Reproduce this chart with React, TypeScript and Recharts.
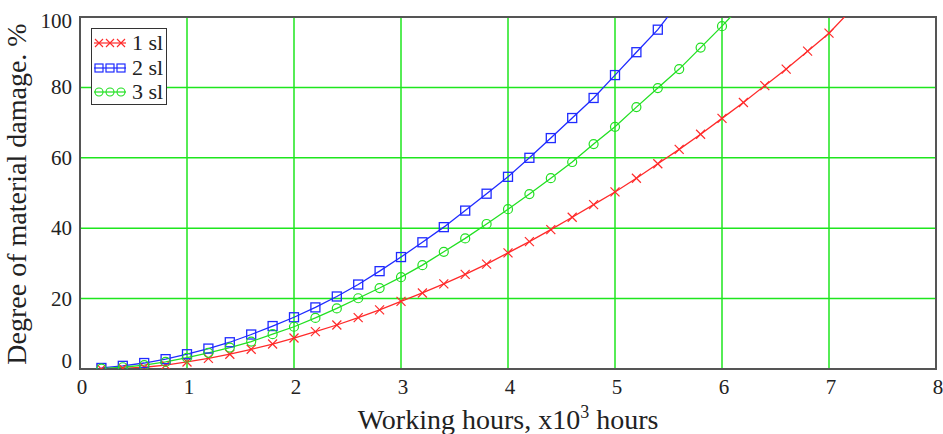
import React from 'react';
import { LineChart, Line, XAxis, YAxis, CartesianGrid, ReferenceArea } from 'recharts';

// working hours, x10^3
const hours = [
  0.2, 0.4, 0.6, 0.8, 1.0, 1.2, 1.4, 1.6, 1.8, 2.0, 2.2, 2.4, 2.6, 2.8, 3.0, 3.2, 3.4, 3.6,
  3.8, 4.0, 4.2, 4.4, 4.6, 4.8, 5.0, 5.2, 5.4, 5.6, 5.8, 6.0, 6.2, 6.4, 6.6, 6.8, 7.0, 7.2,
];

// degree of material damage, %
const sl1 = [
  0, 0.2, 0.5, 1.1, 2.0, 3.0, 4.2, 5.6, 7.1, 8.8, 10.6, 12.5, 14.6, 16.8, 19.2, 21.6, 24.2, 26.9,
  29.8, 33.0, 36.2, 39.6, 43.1, 46.7, 50.3, 54.2, 58.3, 62.4, 66.7, 71.2, 75.7, 80.5, 85.2, 90.3, 95.4, 101.8,
];
const sl2 = [
  0.3, 0.9, 1.7, 2.8, 4.2, 5.8, 7.6, 9.8, 12.2, 14.7, 17.5, 20.6, 24.0, 27.8, 31.8, 36.0, 40.3, 45.0,
  49.8, 54.6, 60.0, 65.6, 71.3, 77.0, 83.5, 90.0, 96.4, 104.3,
];
const sl3 = [
  0.1, 0.5, 1.1, 2.0, 3.2, 4.6, 6.1, 7.8, 9.9, 12.0, 14.5, 17.2, 20.1, 23.0, 26.1, 29.5, 33.3, 37.1,
  41.2, 45.4, 49.7, 54.2, 58.8, 63.9, 68.8, 74.4, 79.8, 85.2, 91.3, 97.4, 103.9,
];

const xTicks = [0, 1, 2, 3, 4, 5, 6, 7, 8];
const yTicks = [0, 20, 40, 60, 80, 100];
const seriesNames = ['1 sl', '2 sl', '3 sl'];

const RED = '#ff2a2a';
const BLUE = '#1f2bff';
const GREEN = '#22e022';
const GRID = '#1ee61e';
const FONT = 'Liberation Serif, DejaVu Serif, serif';

const toRows = (vals: number[]) => vals.map((v, i) => ({ h: hours[i], v }));

const Cross = (props: any) => {
  const { cx, cy } = props;
  if (cx == null || cy == null) return null;
  const s = 4.5;
  return (
    <g stroke={RED} strokeWidth={1.2}>
      <line x1={cx - s} y1={cy - s} x2={cx + s} y2={cy + s} />
      <line x1={cx - s} y1={cy + s} x2={cx + s} y2={cy - s} />
    </g>
  );
};

const Square = (props: any) => {
  const { cx, cy } = props;
  if (cx == null || cy == null) return null;
  return <rect x={cx - 4.5} y={cy - 4.5} width={9} height={9} fill="none" stroke={BLUE} strokeWidth={1.3} />;
};

const Circle = (props: any) => {
  const { cx, cy } = props;
  if (cx == null || cy == null) return null;
  return <circle cx={cx} cy={cy} r={4.5} fill="none" stroke={GREEN} strokeWidth={1.2} />;
};

const YTick = (props: any) => {
  const { x, y, payload } = props;
  let dy = 7;
  if (payload.value === 0) dy = -1;
  if (payload.value === 100) dy = 11;
  return (
    <text x={x} y={y + dy} textAnchor="end" fontSize={21} fontFamily={FONT} fill="#222">
      {payload.value}
    </text>
  );
};

const XTick = (props: any) => {
  const { x, y, payload } = props;
  return (
    <text x={x + 2} y={y + 19} textAnchor="middle" fontSize={21} fontFamily={FONT} fill="#222">
      {payload.value}
    </text>
  );
};

const XLabel = (props: any) => {
  const { viewBox } = props;
  const cx = viewBox.x + viewBox.width / 2;
  return (
    <text x={cx} y={429} textAnchor="middle" fontSize={28} fontFamily={FONT} fill="#222">
      Working hours, x10
      <tspan dy={-11} fontSize={18}>3</tspan>
      <tspan dy={11}> hours</tspan>
    </text>
  );
};

function LegendBox() {
  const markers = [
    { color: RED, kind: 'x' },
    { color: BLUE, kind: 's' },
    { color: GREEN, kind: 'o' },
  ];
  return (
    <div
      style={{
        position: 'absolute',
        left: 91,
        top: 28,
        width: 76,
        height: 77,
        border: '1.5px solid #333',
        background: '#fff',
        fontFamily: FONT,
        fontSize: 22,
        color: '#222',
        boxSizing: 'border-box',
      }}
    >
      {seriesNames.map((name, i) => {
        const m = markers[i];
        return (
          <div key={name} style={{ position: 'absolute', left: 2, top: 2 + i * 24.5, height: 24, display: 'flex', alignItems: 'center' }}>
            <svg width={32} height={12}>
              <line x1={0} y1={6} x2={32} y2={6} stroke={m.color} strokeWidth={1.2} />
              {[5, 16, 27].map((px) =>
                m.kind === 'x' ? (
                  <g key={px} stroke={m.color} strokeWidth={1.1}>
                    <line x1={px - 4} y1={2} x2={px + 4} y2={10} />
                    <line x1={px - 4} y1={10} x2={px + 4} y2={2} />
                  </g>
                ) : m.kind === 's' ? (
                  <rect key={px} x={px - 4} y={2} width={8} height={8} fill="none" stroke={m.color} strokeWidth={1.2} />
                ) : (
                  <circle key={px} cx={px} cy={6} r={4} fill="none" stroke={m.color} strokeWidth={1.1} />
                )
              )}
            </svg>
            <span style={{ marginLeft: 6, lineHeight: '24px' }}>{name}</span>
          </div>
        );
      })}
    </div>
  );
}

export default function App() {
  return (
    <div style={{ position: 'absolute', left: 0, top: 0, width: 943, height: 434, background: '#fff' }}>
      <LineChart width={943} height={434} margin={{ top: 17, right: 7, bottom: 35, left: 0 }}>
        <CartesianGrid stroke={GRID} strokeWidth={1.5} />
        <XAxis
          type="number"
          dataKey="h"
          domain={[0, 8]}
          ticks={xTicks}
          allowDataOverflow
          height={30}
          axisLine={{ stroke: '#555', strokeWidth: 2 }}
          tickLine={false}
          tickSize={6}
          tickMargin={0}
          tick={XTick}
          label={{ content: XLabel }}
        />
        <YAxis
          type="number"
          domain={[0, 100]}
          ticks={yTicks}
          allowDataOverflow
          width={80}
          axisLine={{ stroke: '#555', strokeWidth: 2 }}
          tickLine={false}
          tick={YTick}
          label={{
            value: 'Degree of material damage. %',
            angle: -90,
            position: 'insideLeft',
            offset: 0,
            dx: 16,
            dy: 1,
            style: { fontSize: 28, fontFamily: FONT, fill: '#222', textAnchor: 'middle' },
          }}
        />
        <Line
          data={toRows(sl1)}
          dataKey="v"
          name={seriesNames[0]}
          type="linear"
          stroke={RED}
          strokeWidth={1.3}
          dot={Cross}
          isAnimationActive={false}
        />
        <Line
          data={toRows(sl2)}
          dataKey="v"
          name={seriesNames[1]}
          type="linear"
          stroke={BLUE}
          strokeWidth={1.3}
          dot={Square}
          isAnimationActive={false}
        />
        <Line
          data={toRows(sl3)}
          dataKey="v"
          name={seriesNames[2]}
          type="linear"
          stroke={GREEN}
          strokeWidth={1.3}
          dot={Circle}
          isAnimationActive={false}
        />
        <ReferenceArea x1={0} x2={8} y1={0} y2={100} fill="none" stroke="#555" strokeWidth={2} fillOpacity={0} />
      </LineChart>
      <LegendBox />
    </div>
  );
}
